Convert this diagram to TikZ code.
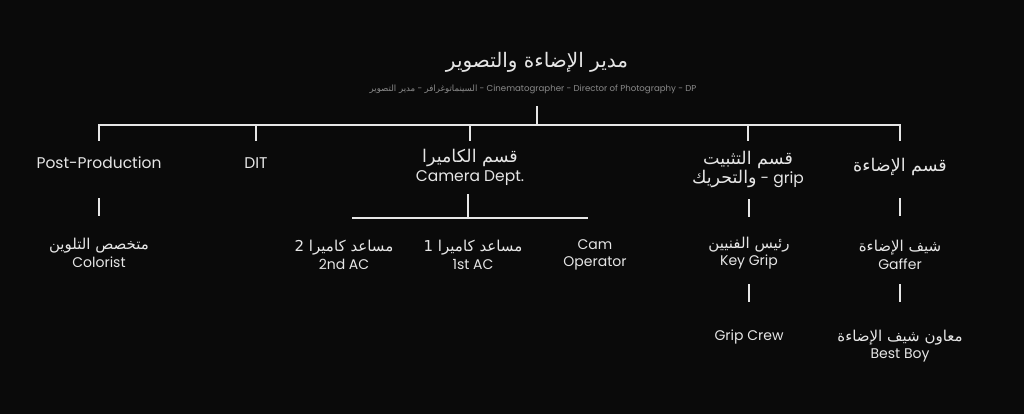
\documentclass[tikz,border=0pt]{standalone}
\usepackage{fontspec}
\setmainfont{Poppins}
\newfontfamily\arabicfont[Script=Arabic]{DejaVu Sans}
\TeXXeTstate=1
\newcommand\ARa[1]{{\arabicfont\fontsize{17.5}{19}\selectfont\beginR #1\endR}}
\newcommand\AR[1]{{\arabicfont\fontsize{15}{17}\selectfont\beginR #1\endR}}
\newcommand\ARs[1]{{\arabicfont\beginR #1\endR}}
\definecolor{bg}{HTML}{0A0A0A}
\definecolor{fg}{HTML}{E6E6E6}
\definecolor{sub}{HTML}{8A8A8A}
\begin{document}
\begin{tikzpicture}[x=1pt,y=-1pt,
  lbla/.style={text=fg,font=\fontsize{15.5}{19}\selectfont,align=center,inner sep=0pt},
  lbl/.style={text=fg,font=\fontsize{14}{17.5}\selectfont,align=center,inner sep=0pt},
  conn/.style={draw=fg,line width=2pt}]
\fill[bg] (0,0) rectangle (1024,414);
\useasboundingbox (0,0) rectangle (1024,414);
% title
\node[text=fg,inner sep=0pt,font=\fontsize{20}{24}\selectfont] (title) at (537,62) {\ARs{مدير الإضاءة والتصوير}};
\node[text=sub,inner sep=0pt,font=\fontsize{8.6}{10}\selectfont] (subtitle) at (533,89)
  {\ARs{مدير التصوير} - \ARs{السينماتوغرافر} - Cinematographer - Director of Photography - DP};
% level 1
\node[lbla] (pp) at (99,163) {Post-Production};
\node[lbla] (dit) at (256,163) {DIT};
\node[lbla] (cam) at (470,167) {\ARa{قسم الكاميرا}\\Camera Dept.};
\node[lbla] (grip) at (748,169) {\ARa{قسم التثبيت}\\\ARa{والتحريك} - grip};
\node[lbla] (light) at (900,167) {\ARa{قسم الإضاءة}};
% level 2
\node[lbl] (col) at (99,253) {\AR{متخصص التلوين}\\Colorist};
\node[lbl] (ac2) at (344,255) {\AR{مساعد كاميرا 2}\\2nd AC};
\node[lbl] (ac1) at (473,255) {\AR{مساعد كاميرا 1}\\1st AC};
\node[lbl] (op) at (595,255) {Cam\\Operator};
\node[lbl] (kg) at (749,253) {\AR{رئيس الفنيين}\\Key Grip};
\node[lbl] (gaf) at (900,255) {\AR{شيف الإضاءة}\\Gaffer};
% level 3
\node[lbl] (crew) at (749,337) {Grip Crew};
\node[lbl] (bb) at (900,346) {\AR{معاون شيف الإضاءة}\\Best Boy};
% coordinates
\coordinate (tstem) at (537,106);
\coordinate (bus) at (537,125);
\coordinate (busL) at (99,125);
\coordinate (busR) at (900,125);
\foreach \n/\x in {pp/99,dit/256,cam/470,grip/748,light/900}{
  \coordinate (\n top) at (\x,125);
  \coordinate (\n drop) at (\x,141);
}
\coordinate (ppA) at (99,198); \coordinate (ppB) at (99,216);
\coordinate (camA) at (468,194); \coordinate (camB) at (468,218);
\coordinate (camL) at (352,218); \coordinate (camR) at (588,218);
\coordinate (gripA) at (749,199); \coordinate (gripB) at (749,217);
\coordinate (lightA) at (900,198); \coordinate (lightB) at (900,216);
\coordinate (kgA) at (749,284); \coordinate (kgB) at (749,302);
\coordinate (gafA) at (900,284); \coordinate (gafB) at (900,302);
% connectors
\draw[conn] (tstem) -- (bus);
\draw[conn,line cap=rect] (busL) -- (busR);
\foreach \n in {pp,dit,cam,grip,light}{\draw[conn] (\n top) -- (\n drop);}
\draw[conn] (ppA) -- (ppB);
\draw[conn] (camA) -- (camB);
\draw[conn] (camL) -- (camR);
\draw[conn] (gripA) -- (gripB);
\draw[conn] (lightA) -- (lightB);
\draw[conn] (kgA) -- (kgB);
\draw[conn] (gafA) -- (gafB);
\end{tikzpicture}
\end{document}
